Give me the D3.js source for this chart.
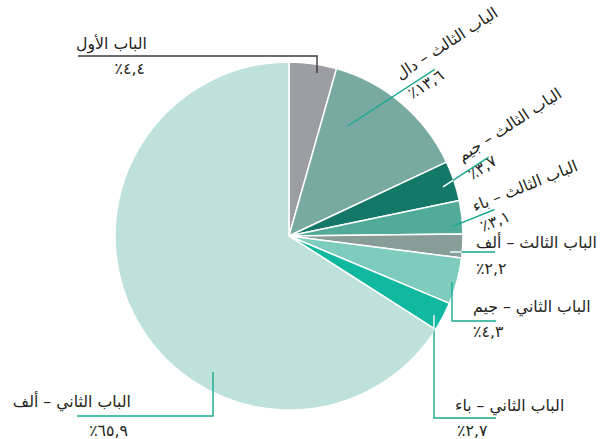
<!DOCTYPE html>
<html><head><meta charset="utf-8">
<script src="https://cdn.jsdelivr.net/npm/d3@7"></script>
<style>html,body{margin:0;padding:0;background:#fff;}svg{display:block;}</style>
</head><body>
<svg id="chart" width="600" height="439"></svg>
<script>
const categories = ["الباب الأول", "الباب الثالث – دال", "الباب الثالث – جيم", "الباب الثالث – باء", "الباب الثالث – ألف", "الباب الثاني – جيم", "الباب الثاني – باء", "الباب الثاني – ألف"];
const values = [4.4, 13.6, 3.7, 3.1, 2.2, 4.3, 2.7, 65.9];
const colors = ["#9d9ea3", "#78aaa1", "#137868", "#52ab98", "#889d97", "#7dccbe", "#10b8a0", "#bee2db"];

// label layout (positions only)
const layout = [
  {type:"h", anchor:"end", tx:147, ty:49, px:145, py:74, line:[[317,73],[317,56],[78,56]], stroke:"#3a3a3a", inner:false},
  {type:"r", ox:400, oy:80, angle:-33, lx0:-69, lx1:35, ly:10, px:0, py:23, inner:false},
  {type:"r", ox:462, oy:162, angle:-33, lx0:-29.5, lx1:25, ly:10.5, px:-1, py:21, inner:true},
  {type:"r", ox:475, oy:212, angle:-22, lx0:-26, lx1:19, ly:5, px:0, py:21.5, inner:false},
  {type:"h", anchor:"start", tx:476, ty:248, px:476, py:274, line:[[450,252],[495,252]], inner:true},
  {type:"h", anchor:"start", tx:473, ty:312, px:473, py:337, line:[[452,282],[452,321],[496,321]], inner:false},
  {type:"h", anchor:"start", tx:455, ty:411, px:457, py:436, line:[[434,315],[434,418],[496,418]], inner:true},
  {type:"h", anchor:"end", tx:131, ty:407, px:128, py:436, line:[[213,372],[213,416],[77,416]], inner:false}
];

const svg = d3.select("#chart");
const cx = 289, cy = 236, R = 174;
const teal = "#17a98f", textColor = "#231f20";
const FONT = "DejaVu Sans";

const toAr = s => s.replace(/[0-9]/g, d => "٠١٢٣٤٥٦٧٨٩"[+d]);
const fmt = v => "٪" + toAr(v.toFixed(1).replace(".", ","));

// pie
const pie = d3.pie().sort(null).value(d => d)(values);
const arc = d3.arc().innerRadius(0).outerRadius(R);
const g = svg.append("g").attr("transform", `translate(${cx},${cy})`);
g.selectAll("path").data(pie).join("path")
  .attr("d", arc)
  .attr("fill", (d,i) => colors[i])
  .attr("stroke", "#fff").attr("stroke-width", 1.5).attr("stroke-linejoin", "round");

// clip for inner (white) leader segments
svg.append("defs").append("clipPath").attr("id","pieClip")
  .append("circle").attr("cx", cx).attr("cy", cy).attr("r", R - 0.5);

// font size fitting
const probe = svg.append("text").attr("font-family", FONT).attr("font-size", 100).text(categories[4]);
const w100 = probe.node().getComputedTextLength();
probe.remove();
const fs = Math.min(17, 100 * 121 / w100);

const lineGen = d3.line();
const leaders = svg.append("g");
const whites = svg.append("g").attr("clip-path", "url(#pieClip)");
const texts = svg.append("g").attr("font-family", FONT).attr("font-size", fs).attr("fill", textColor);

layout.forEach((L, i) => {
  if (L.type === "h") {
    leaders.append("path").attr("d", lineGen(L.line)).attr("fill","none")
      .attr("stroke", L.stroke || teal).attr("stroke-width", 1.4);
    if (L.inner) whites.append("path").attr("d", lineGen(L.line)).attr("fill","none")
      .attr("stroke", "#fff").attr("stroke-width", 1.4);
    texts.append("text").attr("x", L.tx).attr("y", L.ty).attr("text-anchor", L.anchor).text(categories[i]);
    texts.append("text").attr("x", L.px).attr("y", L.py).attr("text-anchor", L.anchor).text(fmt(values[i]));
  } else {
    const tr = `translate(${L.ox},${L.oy}) rotate(${L.angle})`;
    const pts = [[L.lx0, L.ly],[L.lx1, L.ly]];
    leaders.append("path").attr("transform", tr).attr("d", lineGen(pts))
      .attr("stroke", teal).attr("stroke-width", 1.4);
    if (L.inner) {
      const a = L.angle * Math.PI / 180;
      const sp = pts.map(([x,y]) => [L.ox + x*Math.cos(a) - y*Math.sin(a), L.oy + x*Math.sin(a) + y*Math.cos(a)]);
      whites.append("path").attr("d", lineGen(sp)).attr("stroke", "#fff").attr("stroke-width", 1.4);
    }
    const tg = texts.append("g").attr("transform", tr);
    tg.append("text").attr("x", 0).attr("y", 0).attr("text-anchor", "start").text(categories[i]);
    tg.append("text").attr("x", L.px).attr("y", L.py).attr("text-anchor", "start").text(fmt(values[i]));
  }
});
</script>
</body></html>
